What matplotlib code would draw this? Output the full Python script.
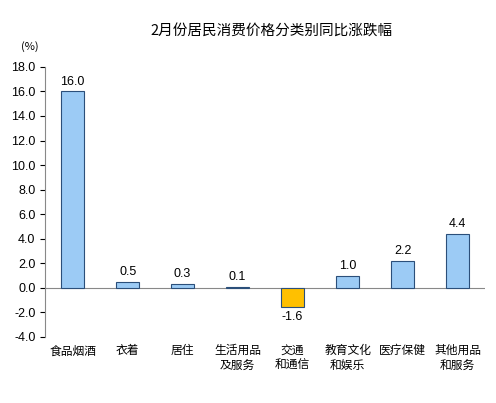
import matplotlib
matplotlib.use("Agg")
import matplotlib.pyplot as plt

plt.rcParams['font.family'] = ['Noto Sans CJK SC', 'DejaVu Sans']

categories = ["食品烟酒", "衣着", "居住", "生活用品\n及服务", "交通\n和通信", "教育文化\n和娱乐", "医疗保健", "其他用品\n和服务"]
values = [16.0, 0.5, 0.3, 0.1, -1.6, 1.0, 2.2, 4.4]
yticks = [-4.0, -2.0, 0.0, 2.0, 4.0, 6.0, 8.0, 10.0, 12.0, 14.0, 16.0, 18.0]

fig = plt.figure(figsize=(4.96, 4.03), dpi=100)
ax = fig.add_axes([0.091, 0.164, 0.887, 0.67])
x = list(range(len(values)))
colors = ["#ffc000" if v < 0 else "#9ccbf5" for v in values]
ax.bar(x, values, width=0.42, color=colors, edgecolor="#2b4f7a", linewidth=0.8, zorder=3)
for xi, v in zip(x, values):
    ax.text(xi, v + (0.3 if v >= 0 else -0.3), f"{v:.1f}", ha="center",
            va="bottom" if v >= 0 else "top", fontsize=9, family="Liberation Sans")
ax.axhline(0, color="#888888", linewidth=0.8, zorder=2)
ax.set_ylim(-4, 18)
ax.set_xlim(-0.5, len(values) - 0.5)
ax.set_yticks(yticks)
ax.set_yticklabels([f"{t:.1f}" for t in yticks], fontsize=9, family="Liberation Sans")
ax.set_xticks([])
for s in ["top", "right", "bottom"]:
    ax.spines[s].set_visible(False)
ax.spines["left"].set_color("#888888")
for xi, c in zip(x, categories):
    ax.text(xi, -4.6, c, ha="center", va="top", fontsize=8.5, linespacing=1.2)
fig.text(0.548, 0.925, "2月份居民消费价格分类别同比涨跌幅", ha="center", va="center", fontsize=10.5)
fig.text(0.06, 0.885, "(%)", ha="center", va="center", fontsize=8)
fig.savefig("out.png", dpi=100)
